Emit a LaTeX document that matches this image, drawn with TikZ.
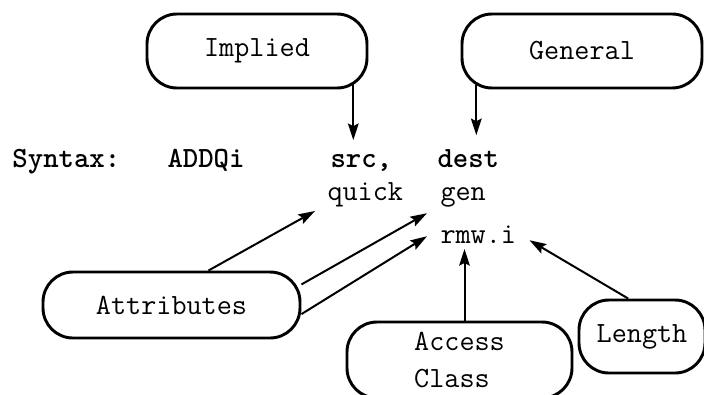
\documentclass[tikz,border=0pt]{standalone}
\usepackage{fontspec}
\usetikzlibrary{arrows.meta}

\tikzset{every picture/.style={line width=0.75pt}}
\tikzset{
	bubble/.style={draw, line width=2.2pt, rounded corners=22.5pt, inner sep=0pt, align=left, font=\ttfamily\fontsize{22}{28}\selectfont},
	word/.style={inner sep=0pt, anchor=base west, font=\ttfamily\fontsize{22}{26}\selectfont},
	keyword/.style={word, font=\ttfamily\bfseries\fontsize{22}{26}\selectfont},
	arr/.style={line width=1.5pt, -{Stealth[length=12.5pt,width=8pt,inset=2pt]}}
}

\begin{document}
\begin{tikzpicture}[x=0.75pt,y=0.75pt,yscale=-1,xscale=1]
	\useasboundingbox (0,0) rectangle (704,394);

	% Boxes
	\node[bubble, minimum width=165pt, minimum height=55.5pt] (implied) at (257,51) {Implied};
	\node[bubble, minimum width=180pt, minimum height=55.5pt] (general) at (582,51) {General};
	\node[bubble, minimum width=192.75pt, minimum height=49.5pt] (attributes) at (171.5,305) {Attributes};
	\node[bubble, minimum width=168.75pt, minimum height=57pt] (access) at (459.5,360) {Access\\Class};
	\node[bubble, minimum width=94.5pt, minimum height=54.75pt] (length) at (642,336.5) {Length};

	% Syntax line
	\node[keyword] (syntax) at (12,167) {Syntax:};
	\node[keyword] (addqi) at (167,167) {ADDQi};
	\node[keyword] (src) at (330,167) {src,};
	\node[keyword] (dest) at (437,167) {dest};
	\node[word] (quick) at (327,200) {quick};
	\node[word] (gen) at (440,200) {gen};
	\node[word] (rmw) at (440,243) {rmw.i};

	% Arrows
	\draw[arr, shorten >=10pt] ([shift={(-8,-5)}]src.north |- implied.south) -- ([shift={(-8,0)}]src.north);
	\draw[arr, shorten >=10pt] ([shift={(8,-4)}]dest.north |- general.south) -- ([shift={(8,0)}]dest.north);
	\draw[arr] (attributes.43) -- ([shift={(-12,4)}]quick.south west);
	\draw[arr] (attributes.9) -- ([shift={(-13,6)}]gen.south west);
	\draw[arr] (attributes.-4) -- ([shift={(-13,2)}]rmw.west);
	\draw[arr, shorten >=4pt] ([shift={(5,0)}]access.north) -- ([shift={(5,0)}]access.north |- rmw.south);
	\draw[arr] (length.110) -- ([shift={(13,6)}]rmw.east);

\end{tikzpicture}
\end{document}
